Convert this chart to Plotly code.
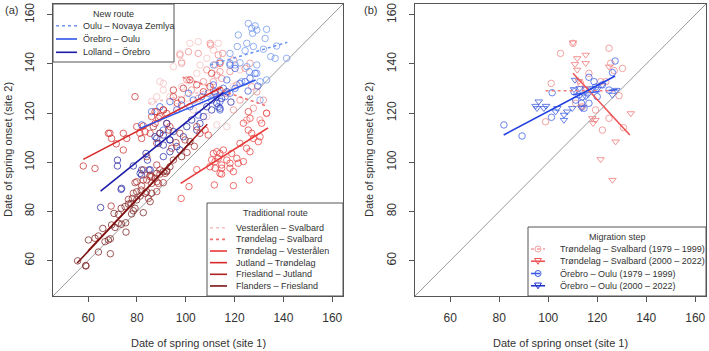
import plotly.graph_objects as go

# ---------------- data ----------------
AX_RANGE = [45.6, 164.4]
TICKS = [60, 80, 100, 120, 140, 160]

# Panel (a) – New route
ON_x = [125.6, 127.0, 128.4, 129.1, 127.4, 133.1, 121.5, 125.0, 124.3, 127.7, 131.8, 132.5, 137.2, 141.3, 121.1, 122.2,
        120.2, 118.1, 125.0, 129.1, 134.8, 136.6, 130.4, 130.4, 129.1, 126.0, 111.3, 114.0, 118.1, 122.9, 133.1]
ON_y = [156.5, 154.5, 155.5, 153.8, 152.5, 154.1, 151.8, 148.4, 145.4, 147.1, 146.0, 150.4, 147.3, 142.3, 147.1, 140.5,
        139.6, 140.3, 138.9, 139.6, 143.0, 142.3, 125.3, 132.8, 136.2, 136.9, 139.6, 140.9, 144.3, 132.8, 133.5]
ON_fit_x = [110.0, 141.6]
ON_fit_y = [139.6, 148.8]

EO_x = [86.0, 89.4, 93.5, 98.3, 101.1, 103.1, 106.5, 109.2, 111.3, 112.0, 112.7, 114.0, 114.0, 113.3, 115.4, 116.8,
        118.1, 120.2, 122.2, 124.3, 126.3, 128.4, 120.2, 118.1, 101.7, 105.1, 96.3, 110.6, 116.1, 81.9, 90.8, 125.5, 129.5]
EO_y = [120.6, 122.6, 124.7, 123.3, 128.1, 125.3, 126.7, 128.1, 131.5, 128.7, 126.7, 124.7, 121.3, 122.6, 130.1, 133.5,
        128.1, 130.1, 132.1, 132.8, 134.2, 136.2, 138.2, 139.6, 122.6, 119.2, 121.3, 125.3, 126.7, 115.2, 113.1, 129.0, 131.0]
EO_fit_x = [81.3, 128.6]
EO_fit_y = [113.8, 133.5]

LO_x = [65.1, 73.5, 81.3, 84.9, 72.0, 72.0, 78.5, 81.9, 81.9, 83.7, 84.3, 85.4, 73.7, 87.4, 89.4, 88.8, 90.8, 92.2,
        93.5, 88.1, 90.8, 93.5, 94.9, 96.3, 99.0, 100.4, 102.4, 105.8, 107.2, 104.5, 97.6, 108.6, 110.6, 112.7, 114.0,
        114.7, 116.8, 93.5, 90.8, 118.5]
LO_y = [81.6, 89.0, 95.5, 96.9, 100.9, 98.5, 98.5, 96.9, 94.8, 103.6, 100.9, 96.9, 89.4, 110.4, 111.8, 107.7, 107.0,
        115.8, 109.1, 109.8, 111.1, 109.1, 112.5, 106.4, 110.4, 114.5, 117.2, 115.8, 118.6, 113.1, 105.0, 122.6, 121.3,
        124.0, 122.0, 126.0, 128.7, 104.3, 102.3, 124.5]
LO_fit_x = [65.1, 115.4]
LO_fit_y = [88.3, 128.4]

# Panel (a) – Traditional route
VS_x = [101.7, 105.1, 97.6, 98.3, 94.9, 89.4, 86.0, 88.1, 90.8, 93.5, 96.3, 98.3, 101.1, 104.5, 105.8, 108.6, 111.3,
        113.3, 103.1, 105.8, 108.6, 112.7, 116.8, 119.5, 122.2, 111.3, 100.4, 92.9, 90.8]
VS_y = [148.4, 149.1, 144.3, 140.9, 138.9, 132.8, 124.7, 126.7, 129.4, 126.7, 122.6, 130.8, 133.5, 136.2, 139.6, 142.3,
        145.7, 148.4, 121.3, 124.7, 118.6, 115.2, 114.5, 130.8, 137.6, 129.4, 126.0, 142.3, 132.1]
VS_fit_x = [84.7, 111.3]
VS_fit_y = [124.0, 129.7]

TS_x = [110.0, 110.2, 113.3, 115.1, 112.0, 114.0, 114.7, 111.3, 105.1, 101.1, 97.6, 120.9, 124.3, 126.3, 127.0, 129.1,
        131.8, 133.1, 130.4, 119.5, 118.1, 122.2, 119.5, 125.0, 127.7, 116.8, 112.7, 102.4, 105.1, 107.2, 108.6, 100.4, 98.3]
TS_y = [148.4, 147.7, 143.7, 144.3, 139.6, 136.9, 134.1, 132.8, 144.3, 145.0, 143.7, 131.5, 138.2, 140.3, 130.8, 128.7,
        125.3, 119.9, 117.2, 141.6, 136.9, 125.3, 121.3, 117.2, 122.0, 128.1, 135.5, 129.4, 126.0, 132.8, 137.6, 133.5, 140.3]
TS_fit_x = [98.7, 133.1]
TS_fit_y = [134.6, 122.9]

TV_x = [98.1, 101.3, 107.9, 109.2, 111.3, 112.7, 114.0, 115.4, 113.3, 112.0, 110.6, 109.9, 112.0, 114.7, 114.0, 114.7,
        116.8, 118.1, 118.1, 118.8, 119.5, 120.9, 121.5, 123.6, 122.2, 124.9, 126.3, 125.6, 127.0, 127.7, 129.7, 130.4,
        131.1, 133.1, 123.6, 126.3, 125.6, 111.7, 114.7, 126.0, 104.5, 119.5]
TV_y = [85.3, 90.1, 113.1, 111.1, 103.6, 104.3, 103.6, 105.0, 101.6, 100.3, 101.0, 98.2, 97.6, 97.6, 95.5, 98.9,
        100.9, 99.6, 97.6, 103.6, 96.2, 101.6, 99.6, 100.3, 107.7, 105.7, 104.3, 113.1, 111.8, 109.7, 108.4, 110.4,
        115.9, 120.0, 115.9, 117.9, 120.6, 90.8, 95.2, 92.8, 97.0, 90.5]
TV_fit_x = [97.9, 133.7]
TV_fit_y = [91.4, 114.0]

JT_x = [58.0, 62.8, 68.9, 69.6, 74.4, 74.4, 75.8, 79.2, 79.9, 81.2, 81.9, 83.3, 85.4, 86.0, 88.1, 89.4, 90.8, 92.2,
        87.4, 93.5, 82.6, 87.4, 88.8, 92.2, 94.9, 99.0, 101.7, 104.5, 107.2, 109.9, 112.0, 114.0, 98.3, 94.9, 110.6,
        114.0, 71.5, 68.3, 90.8, 96.5]
JT_y = [98.5, 97.5, 111.8, 109.7, 111.8, 105.0, 109.7, 126.7, 114.5, 111.8, 109.7, 112.4, 111.8, 118.6, 120.6, 118.6,
        121.3, 119.9, 115.8, 114.5, 114.8, 120.6, 117.9, 115.8, 129.4, 130.1, 133.5, 131.5, 128.7, 130.8, 128.1, 129.4,
        125.3, 126.7, 136.2, 140.3, 107.5, 111.8, 121.3, 124.0]
JT_fit_x = [58.0, 114.7]
JT_fit_y = [101.2, 130.5]

FJ_x = [69.4, 76.5, 78.5, 81.7, 84.0, 84.7, 79.2, 81.9, 84.0, 85.3, 87.4, 86.0, 89.4, 88.8, 90.8, 88.1, 82.6, 85.4,
        89.4, 92.2, 88.1, 79.9, 86.7, 89.4, 92.9, 97.6, 104.5, 105.8, 99.7, 88.1, 94.2, 94.9, 91.5, 84.0, 86.0, 88.1,
        82.6, 100.5, 103.5, 96.0]
FJ_y = [82.2, 84.9, 87.4, 88.7, 88.0, 85.3, 91.7, 90.4, 92.8, 94.2, 93.5, 91.4, 95.2, 91.4, 91.7, 88.1, 92.8, 94.8,
        96.9, 96.2, 92.1, 92.1, 114.5, 111.8, 113.1, 111.8, 114.5, 111.8, 109.1, 107.7, 105.7, 100.9, 95.5, 102.3, 94.2,
        98.9, 96.9, 104.0, 106.5, 108.0]
FJ_fit_x = [60.0, 108.8]
FJ_fit_y = [64.0, 115.5]

FF_x = [55.7, 59.0, 59.1, 60.1, 62.8, 64.2, 64.2, 66.0, 66.9, 68.3, 69.1, 69.1, 69.6, 71.0, 72.4, 73.7, 75.4, 75.5,
        70.6, 72.4, 73.5, 75.1, 76.5, 77.6, 78.5, 77.8, 79.2, 78.1, 79.9, 82.6, 81.3, 79.9, 83.3, 85.4, 86.0, 88.1,
        90.8, 92.2, 93.5, 98.3, 101.7]
FF_y = [59.9, 58.0, 57.8, 68.4, 69.1, 70.0, 63.5, 73.1, 67.7, 68.4, 68.9, 62.8, 74.5, 73.5, 75.2, 74.8, 75.4, 71.6,
        79.2, 78.8, 81.3, 82.0, 83.0, 83.3, 80.3, 79.0, 81.3, 85.3, 84.7, 79.5, 86.3, 88.0, 87.4, 84.0, 87.4, 95.5,
        96.2, 96.6, 98.2, 102.3, 108.4]
FF_fit_x = [55.5, 103.0]
FF_fit_y = [59.0, 109.3]

# Panel (b) – Migration step
TS79_x = [105.0, 110.1, 101.2, 98.9, 113.2, 116.6, 124.8, 125.5, 130.3, 128.9, 130.7, 122.1, 124.8, 119.3, 111.2,
          113.9, 121.4, 123.5, 126.9]
TS79_y = [144.3, 148.4, 132.1, 116.5, 132.1, 136.2, 146.4, 140.3, 138.2, 127.1, 114.1, 113.1, 117.9, 121.3, 124.0,
          122.6, 132.8, 132.8, 137.3]
TS79_fit_x = [98.9, 127.5]
TS79_fit_y = [129.1, 129.1]

TS00_x = [110.1, 115.3, 111.8, 115.3, 110.9, 111.8, 133.7, 127.5, 121.4, 126.2, 118.0, 118.3, 119.3, 124.8, 113.6,
          115.3, 112.5]
TS00_y = [148.7, 143.7, 142.3, 140.3, 139.9, 137.6, 119.9, 108.4, 101.2, 92.8, 117.9, 115.9, 117.2, 138.9, 122.6,
          130.1, 133.0]
TS00_fit_x = [110.1, 133.3]
TS00_fit_y = [136.2, 111.1]

EO79_x = [81.9, 89.3, 101.3, 101.6, 116.6, 118.7, 116.6, 113.6, 111.2, 113.9, 122.1, 126.2, 127.3, 115.3, 112.5,
          120.0, 110.5, 114.6, 119.3, 124.8]
EO79_y = [115.2, 110.7, 118.3, 128.3, 134.6, 132.8, 124.0, 124.0, 125.3, 126.7, 131.5, 136.5, 141.2, 129.4, 127.4,
          126.7, 128.7, 122.0, 130.6, 129.4]
EO79_fit_x = [110.0, 128.5]
EO79_fit_y = [127.6, 129.6]

EO00_x = [96.1, 94.8, 95.4, 98.2, 99.1, 103.7, 103.0, 106.4, 106.4, 107.7, 109.8, 110.9, 110.5, 112.8, 115.3, 116.2,
          118.3, 120.0, 122.1, 126.2, 127.8, 113.6]
EO00_y = [124.7, 122.9, 122.0, 122.0, 122.9, 122.0, 120.6, 119.3, 117.2, 120.6, 122.0, 133.5, 129.7, 130.1, 126.7,
          127.6, 130.1, 129.7, 131.5, 127.4, 129.4, 122.0]
EO00_fit_x = [81.8, 127.3]
EO00_fit_y = [111.1, 135.1]

NEW_ROUTE_NAMES = ["Oulu – Novaya Zemlya", "Örebro – Oulu", "Lolland – Örebro"]
TRAD_ROUTE_NAMES = ["Vesterålen – Svalbard", "Trøndelag – Svalbard", "Trøndelag – Vesterålen",
                    "Jutland – Trøndelag", "Friesland – Jutland", "Flanders – Friesland"]
STEP_NAMES = ["Trøndelag – Svalbard (1979 – 1999)", "Trøndelag – Svalbard (2000 – 2022)",
              "Örebro – Oulu (1979 – 1999)", "Örebro – Oulu (2000 – 2022)"]

# ---------------- styling ----------------
W, H = 709, 351
FONT = "Liberation Sans, Arial, sans-serif"
TXT = "#333333"
AXC = "#555555"
MSIZE = 6.5
LW = 1.6


def px(x):
    return x / W


def py(y):
    return 1 - y / H


routes_a = [
    # name, xs, ys, fitx, fity, point colour, line colour, dash
    ("Vesterålen – Svalbard", VS_x, VS_y, VS_fit_x, VS_fit_y, "#f5c0c0", "#f5c0c0", "dot"),
    ("Trøndelag – Svalbard", TS_x, TS_y, TS_fit_x, TS_fit_y, "#f08a8a", "#f07070", "dot"),
    ("Oulu – Novaya Zemlya", ON_x, ON_y, ON_fit_x, ON_fit_y, "#6f96ec", "#6f96ec", "dot"),
    ("Trøndelag – Vesterålen", TV_x, TV_y, TV_fit_x, TV_fit_y, "#e84040", "#e83a3a", "solid"),
    ("Jutland – Trøndelag", JT_x, JT_y, JT_fit_x, JT_fit_y, "#d03030", "#d82a2a", "solid"),
    ("Örebro – Oulu", EO_x, EO_y, EO_fit_x, EO_fit_y, "#3f62e6", "#2f55e8", "solid"),
    ("Lolland – Örebro", LO_x, LO_y, LO_fit_x, LO_fit_y, "#2a2aa8", "#1c1ca8", "solid"),
    ("Friesland – Jutland", FJ_x, FJ_y, FJ_fit_x, FJ_fit_y, "#a83030", "#b02222", "solid"),
    ("Flanders – Friesland", FF_x, FF_y, FF_fit_x, FF_fit_y, "#7c2222", "#7a1414", "solid"),
]

fig = go.Figure()

# 1:1 lines
for xa, ya in [("x", "y"), ("x2", "y2")]:
    fig.add_trace(go.Scatter(x=AX_RANGE, y=AX_RANGE, mode="lines", line=dict(color="#9a9a9a", width=1),
                             xaxis=xa, yaxis=ya, showlegend=False, hoverinfo="skip"))

for name, xs, ys, fx, fy, pc, lc, dash in routes_a:
    fig.add_trace(go.Scatter(x=xs, y=ys, mode="markers", name=name, showlegend=False,
                             marker=dict(symbol="circle-open", size=MSIZE, color=pc, opacity=0.75,
                                         line=dict(width=1)),
                             xaxis="x", yaxis="y"))
for name, xs, ys, fx, fy, pc, lc, dash in routes_a:
    fig.add_trace(go.Scatter(x=fx, y=fy, mode="lines", name=name + " fit", showlegend=False,
                             line=dict(color=lc, width=LW, dash=dash), xaxis="x", yaxis="y"))

steps_b = [
    (STEP_NAMES[0], TS79_x, TS79_y, TS79_fit_x, TS79_fit_y, "#f08c8c", "#f08080", "dot", "circle-open"),
    (STEP_NAMES[1], TS00_x, TS00_y, TS00_fit_x, TS00_fit_y, "#f07a7a", "#f05555", "solid", "triangle-down-open"),
    (STEP_NAMES[2], EO79_x, EO79_y, EO79_fit_x, EO79_fit_y, "#4666e6", "#3a5ae8", "dash", "circle-open"),
    (STEP_NAMES[3], EO00_x, EO00_y, EO00_fit_x, EO00_fit_y, "#4060e0", "#2240e0", "solid", "triangle-down-open"),
]
for name, xs, ys, fx, fy, pc, lc, dash, sym in steps_b:
    fig.add_trace(go.Scatter(x=xs, y=ys, mode="markers", name=name, showlegend=False,
                             marker=dict(symbol=sym, size=MSIZE, color=pc, opacity=0.8, line=dict(width=1)),
                             xaxis="x2", yaxis="y2"))
for name, xs, ys, fx, fy, pc, lc, dash, sym in steps_b:
    fig.add_trace(go.Scatter(x=fx, y=fy, mode="lines", name=name + " fit", showlegend=False,
                             line=dict(color=lc, width=LW, dash=dash), xaxis="x2", yaxis="y2"))

axis_common = dict(range=AX_RANGE, tickvals=TICKS, ticks="outside", ticklen=5, tickwidth=1, tickcolor=AXC,
                   showline=True, linecolor=AXC, linewidth=1, mirror=True, showgrid=False, zeroline=False,
                   tickfont=dict(size=12, color=TXT, family=FONT), automargin=False)

ydom = [py(296), py(4)]
fig.update_layout(
    width=W, height=H, margin=dict(l=0, r=0, t=0, b=0),
    paper_bgcolor="white", plot_bgcolor="white", showlegend=False,
    xaxis=dict(domain=[px(53), px(343)], anchor="y", ticklabelstandoff=6, **axis_common),
    yaxis=dict(domain=ydom, anchor="x", tickangle=-90, ticklabelstandoff=8, **axis_common),
    xaxis2=dict(domain=[px(415), px(706)], anchor="y2", ticklabelstandoff=6, **axis_common),
    yaxis2=dict(domain=ydom, anchor="x2", tickangle=-90, ticklabelstandoff=8, **axis_common),
)

shapes = []
annotations = []


def text(x, y, s, size=9, anchor="left", angle=0):
    annotations.append(dict(x=px(x), y=py(y), xref="paper", yref="paper", text=s, showarrow=False,
                            xanchor=anchor, yanchor="middle", textangle=angle,
                            font=dict(size=size, color=TXT, family=FONT)))


def box(x0, y0, x1, y1):
    shapes.append(dict(type="rect", xref="paper", yref="paper", x0=px(x0), x1=px(x1), y0=py(y1), y1=py(y0),
                       line=dict(color=AXC, width=1), fillcolor="white", layer="above"))


def lline(x0, x1, y, color, dash, width=LW):
    shapes.append(dict(type="line", xref="paper", yref="paper", x0=px(x0), x1=px(x1), y0=py(y), y1=py(y),
                       line=dict(color=color, width=width, dash=dash), layer="above"))


def lcircle(cx, cy, color, r=3):
    shapes.append(dict(type="circle", xref="paper", yref="paper", x0=px(cx - r), x1=px(cx + r),
                       y0=py(cy + r), y1=py(cy - r), line=dict(color=color, width=1), layer="above"))


def ltri(cx, cy, color, r=3.4):
    path = (f"M {px(cx - r)},{py(cy - r * 0.8)} L {px(cx + r)},{py(cy - r * 0.8)} "
            f"L {px(cx)},{py(cy + r * 0.9)} Z")
    shapes.append(dict(type="path", xref="paper", yref="paper", path=path,
                       line=dict(color=color, width=1), layer="above"))


# axis titles and panel labels
text(198, 343, "Date of spring onset (site 1)", size=11, anchor="center")
text(560, 343, "Date of spring onset (site 1)", size=11, anchor="center")
text(8, 150, "Date of spring onset (site 2)", size=11, anchor="center", angle=-90)
text(369, 150, "Date of spring onset (site 2)", size=11, anchor="center", angle=-90)
text(3, 10, "(a)", size=11)
text(362, 10, "(b)", size=11)

# legend: New route
box(53, 4, 174, 62)
text(113, 14, "New route", size=9, anchor="center")
new_styles = [("#6f96ec", "dot"), ("#2f55e8", "solid"), ("#1c1ca8", "solid")]
for i, (nm, (c, d)) in enumerate(zip(NEW_ROUTE_NAMES, new_styles)):
    yy = 25.7 + i * 13.3
    lline(56, 77, yy, c, d)
    text(81, yy, nm)

# legend: Traditional route
box(207, 203, 343, 296)
text(275, 213.3, "Traditional route", size=9, anchor="center")
trad_styles = [("#f5c0c0", "dot"), ("#f07070", "dot"), ("#e83a3a", "solid"), ("#d82a2a", "solid"),
               ("#b02222", "solid"), ("#7a1414", "solid")]
for i, (nm, (c, d)) in enumerate(zip(TRAD_ROUTE_NAMES, trad_styles)):
    yy = 227.7 + i * 11.65
    lline(210, 227, yy, c, d)
    text(234, yy, nm)

# legend: Migration step
box(528, 227, 706, 296)
text(617, 236.7, "Migration step", size=9, anchor="center")
step_styles = [("#f4a0a0", "dot", "c"), ("#f05555", "solid", "t"), ("#3a5ae8", "dash", "c"),
               ("#2233cc", "solid", "t")]
for i, (nm, (c, d, m)) in enumerate(zip(STEP_NAMES, step_styles)):
    yy = 249 + i * 12.25
    lline(531, 545, yy, c, d)
    if m == "c":
        lcircle(538, yy, c)
    else:
        ltri(538, yy, c)
    text(558, yy, nm)

fig.update_layout(shapes=shapes, annotations=annotations)
fig.write_html("out.html")
